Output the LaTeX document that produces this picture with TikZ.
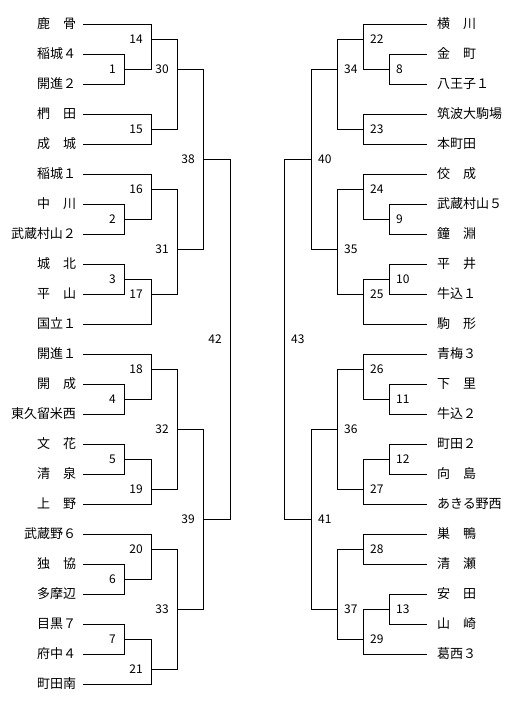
\documentclass[tikz,border=0pt]{standalone}
\usepackage{fontspec}
\setmainfont{Noto Sans CJK JP}
\usetikzlibrary{positioning}

\begin{document}
\begin{tikzpicture}[
        x=1pt, y=-1pt,
        teamL/.style={anchor=east, inner sep=0pt, outer xsep=7pt, font=\fontsize{13}{13}\selectfont},
        teamR/.style={anchor=west, inner sep=0pt, outer xsep=10pt, font=\fontsize{13}{13}\selectfont},
        num/.style={inner sep=0pt, font=\fontsize{12}{12}\selectfont},
        bracket/.style={draw=black, line width=1pt}
    ]
        \useasboundingbox (0,0) rectangle (524,704);

        % ----------------------------------------------------
        % MATCH POINTS (Left Half)
        % ----------------------------------------------------
        \coordinate (m1) at (124,69);
        \coordinate (m2) at (124,219);
        \coordinate (m3) at (124,279);
        \coordinate (m4) at (124,399);
        \coordinate (m5) at (124,459);
        \coordinate (m6) at (124,579);
        \coordinate (m7) at (124,639);
        \coordinate (m14) at (151,39);
        \coordinate (m15) at (151,129);
        \coordinate (m16) at (151,189);
        \coordinate (m17) at (151,294);
        \coordinate (m18) at (151,369);
        \coordinate (m19) at (151,489);
        \coordinate (m20) at (151,549);
        \coordinate (m21) at (151,669);
        \coordinate (m30) at (177,69);
        \coordinate (m31) at (177,249);
        \coordinate (m32) at (177,429);
        \coordinate (m33) at (177,609);
        \coordinate (m38) at (203,159);
        \coordinate (m39) at (203,519);
        \coordinate (m42) at (230,339);

        % ----------------------------------------------------
        % MATCH POINTS (Right Half)
        % ----------------------------------------------------
        \coordinate (m8) at (389,69);
        \coordinate (m9) at (389,219);
        \coordinate (m10) at (389,279);
        \coordinate (m11) at (389,399);
        \coordinate (m12) at (389,459);
        \coordinate (m13) at (389,609);
        \coordinate (m22) at (363,39);
        \coordinate (m23) at (363,129);
        \coordinate (m24) at (363,189);
        \coordinate (m25) at (363,294);
        \coordinate (m26) at (363,369);
        \coordinate (m27) at (363,489);
        \coordinate (m28) at (363,549);
        \coordinate (m29) at (363,639);
        \coordinate (m34) at (337,69);
        \coordinate (m35) at (337,249);
        \coordinate (m36) at (337,429);
        \coordinate (m37) at (337,609);
        \coordinate (m40) at (311,159);
        \coordinate (m41) at (311,519);
        \coordinate (m43) at (284,339);

        % ----------------------------------------------------
        % TEAMS
        % ----------------------------------------------------
        \node[teamL] (L1) at (83,24) {鹿　骨};
        \node[teamL] (L2) at (83,54) {稲城４};
        \node[teamL] (L3) at (83,84) {開進２};
        \node[teamL] (L4) at (83,114) {椚　田};
        \node[teamL] (L5) at (83,144) {成　城};
        \node[teamL] (L6) at (83,174) {稲城１};
        \node[teamL] (L7) at (83,204) {中　川};
        \node[teamL] (L8) at (83,234) {武蔵村山２};
        \node[teamL] (L9) at (83,264) {城　北};
        \node[teamL] (L10) at (83,294) {平　山};
        \node[teamL] (L11) at (83,324) {国立１};
        \node[teamL] (L12) at (83,354) {開進１};
        \node[teamL] (L13) at (83,384) {開　成};
        \node[teamL] (L14) at (83,414) {東久留米西};
        \node[teamL] (L15) at (83,444) {文　花};
        \node[teamL] (L16) at (83,474) {清　泉};
        \node[teamL] (L17) at (83,504) {上　野};
        \node[teamL] (L18) at (83,534) {武蔵野６};
        \node[teamL] (L19) at (83,564) {独　協};
        \node[teamL] (L20) at (83,594) {多摩辺};
        \node[teamL] (L21) at (83,624) {目黒７};
        \node[teamL] (L22) at (83,654) {府中４};
        \node[teamL] (L23) at (83,684) {町田南};

        \node[teamR] (R1) at (427,24) {横　川};
        \node[teamR] (R2) at (427,54) {金　町};
        \node[teamR] (R3) at (427,84) {八王子１};
        \node[teamR] (R4) at (427,114) {筑波大駒場};
        \node[teamR] (R5) at (427,144) {本町田};
        \node[teamR] (R6) at (427,174) {佼　成};
        \node[teamR] (R7) at (427,204) {武蔵村山５};
        \node[teamR] (R8) at (427,234) {鐘　淵};
        \node[teamR] (R9) at (427,264) {平　井};
        \node[teamR] (R10) at (427,294) {牛込１};
        \node[teamR] (R11) at (427,324) {駒　形};
        \node[teamR] (R12) at (427,354) {青梅３};
        \node[teamR] (R13) at (427,384) {下　里};
        \node[teamR] (R14) at (427,414) {牛込２};
        \node[teamR] (R15) at (427,444) {町田２};
        \node[teamR] (R16) at (427,474) {向　島};
        \node[teamR] (R17) at (427,504) {あきる野西};
        \node[teamR] (R18) at (427,534) {巣　鴨};
        \node[teamR] (R19) at (427,564) {清　瀬};
        \node[teamR] (R20) at (427,594) {安　田};
        \node[teamR] (R21) at (427,624) {山　崎};
        \node[teamR] (R22) at (427,654) {葛西３};

        % ----------------------------------------------------
        % BRACKET LINES (Left Half)
        % ----------------------------------------------------
        \draw[bracket] (L2.east) -| (m1) (L3.east) -| (m1);
        \draw[bracket] (L7.east) -| (m2) (L8.east) -| (m2);
        \draw[bracket] (L9.east) -| (m3) (L10.east) -| (m3);
        \draw[bracket] (L13.east) -| (m4) (L14.east) -| (m4);
        \draw[bracket] (L15.east) -| (m5) (L16.east) -| (m5);
        \draw[bracket] (L19.east) -| (m6) (L20.east) -| (m6);
        \draw[bracket] (L21.east) -| (m7) (L22.east) -| (m7);
        \draw[bracket] (L1.east) -| (m14) (m1) -| (m14);
        \draw[bracket] (L4.east) -| (m15) (L5.east) -| (m15);
        \draw[bracket] (L6.east) -| (m16) (m2) -| (m16);
        \draw[bracket] (m3) -| (m17) (L11.east) -| (m17);
        \draw[bracket] (L12.east) -| (m18) (m4) -| (m18);
        \draw[bracket] (m5) -| (m19) (L17.east) -| (m19);
        \draw[bracket] (L18.east) -| (m20) (m6) -| (m20);
        \draw[bracket] (m7) -| (m21) (L23.east) -| (m21);
        \draw[bracket] (m14) -| (m30) (m15) -| (m30);
        \draw[bracket] (m16) -| (m31) (m17) -| (m31);
        \draw[bracket] (m18) -| (m32) (m19) -| (m32);
        \draw[bracket] (m20) -| (m33) (m21) -| (m33);
        \draw[bracket] (m30) -| (m38) (m31) -| (m38);
        \draw[bracket] (m32) -| (m39) (m33) -| (m39);
        \draw[bracket] (m38) -| (m42) (m39) -| (m42);

        % ----------------------------------------------------
        % BRACKET LINES (Right Half)
        % ----------------------------------------------------
        \draw[bracket] (R2.west) -| (m8) (R3.west) -| (m8);
        \draw[bracket] (R7.west) -| (m9) (R8.west) -| (m9);
        \draw[bracket] (R9.west) -| (m10) (R10.west) -| (m10);
        \draw[bracket] (R13.west) -| (m11) (R14.west) -| (m11);
        \draw[bracket] (R15.west) -| (m12) (R16.west) -| (m12);
        \draw[bracket] (R20.west) -| (m13) (R21.west) -| (m13);
        \draw[bracket] (R1.west) -| (m22) (m8) -| (m22);
        \draw[bracket] (R4.west) -| (m23) (R5.west) -| (m23);
        \draw[bracket] (R6.west) -| (m24) (m9) -| (m24);
        \draw[bracket] (m10) -| (m25) (R11.west) -| (m25);
        \draw[bracket] (R12.west) -| (m26) (m11) -| (m26);
        \draw[bracket] (m12) -| (m27) (R17.west) -| (m27);
        \draw[bracket] (R18.west) -| (m28) (R19.west) -| (m28);
        \draw[bracket] (m13) -| (m29) (R22.west) -| (m29);
        \draw[bracket] (m22) -| (m34) (m23) -| (m34);
        \draw[bracket] (m24) -| (m35) (m25) -| (m35);
        \draw[bracket] (m26) -| (m36) (m27) -| (m36);
        \draw[bracket] (m28) -| (m37) (m29) -| (m37);
        \draw[bracket] (m34) -| (m40) (m35) -| (m40);
        \draw[bracket] (m36) -| (m41) (m37) -| (m41);
        \draw[bracket] (m40) -| (m43) (m41) -| (m43);

        % ----------------------------------------------------
        % MATCH NUMBERS
        % ----------------------------------------------------
        \node[num, left=8pt of m1] (n1) {1};
        \node[num, left=8pt of m2] (n2) {2};
        \node[num, left=8pt of m3] (n3) {3};
        \node[num, left=8pt of m4] (n4) {4};
        \node[num, left=8pt of m5] (n5) {5};
        \node[num, left=8pt of m6] (n6) {6};
        \node[num, left=8pt of m7] (n7) {7};
        \node[num, left=8pt of m14] (n14) {14};
        \node[num, left=8pt of m15] (n15) {15};
        \node[num, left=8pt of m16] (n16) {16};
        \node[num, left=8pt of m17] (n17) {17};
        \node[num, left=8pt of m18] (n18) {18};
        \node[num, left=8pt of m19] (n19) {19};
        \node[num, left=8pt of m20] (n20) {20};
        \node[num, left=8pt of m21] (n21) {21};
        \node[num, left=8pt of m30] (n30) {30};
        \node[num, left=8pt of m31] (n31) {31};
        \node[num, left=8pt of m32] (n32) {32};
        \node[num, left=8pt of m33] (n33) {33};
        \node[num, left=8pt of m38] (n38) {38};
        \node[num, left=8pt of m39] (n39) {39};
        \node[num, left=8pt of m42] (n42) {42};

        \node[num, right=7pt of m8] (n8) {8};
        \node[num, right=7pt of m9] (n9) {9};
        \node[num, right=7pt of m10] (n10) {10};
        \node[num, right=7pt of m11] (n11) {11};
        \node[num, right=7pt of m12] (n12) {12};
        \node[num, right=7pt of m13] (n13) {13};
        \node[num, right=7pt of m22] (n22) {22};
        \node[num, right=7pt of m23] (n23) {23};
        \node[num, right=7pt of m24] (n24) {24};
        \node[num, right=7pt of m25] (n25) {25};
        \node[num, right=7pt of m26] (n26) {26};
        \node[num, right=7pt of m27] (n27) {27};
        \node[num, right=7pt of m28] (n28) {28};
        \node[num, right=7pt of m29] (n29) {29};
        \node[num, right=7pt of m34] (n34) {34};
        \node[num, right=7pt of m35] (n35) {35};
        \node[num, right=7pt of m36] (n36) {36};
        \node[num, right=7pt of m37] (n37) {37};
        \node[num, right=7pt of m40] (n40) {40};
        \node[num, right=7pt of m41] (n41) {41};
        \node[num, right=7pt of m43] (n43) {43};

    \end{tikzpicture}
\end{document}
